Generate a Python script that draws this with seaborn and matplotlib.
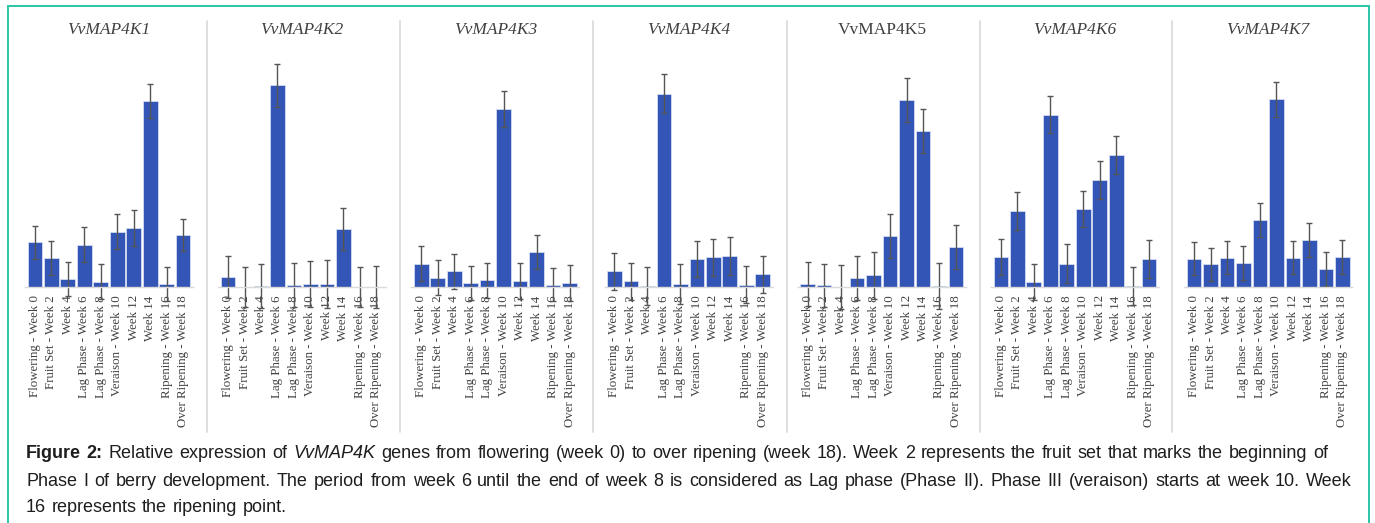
import matplotlib
matplotlib.use('Agg')
import pandas as pd
import matplotlib.pyplot as plt
import seaborn as sns
from matplotlib.lines import Line2D

# stages on the x axis (same for every gene)
stages = ["Flowering - Week 0", "Fruit Set - Week 2", "Week 4", "Lag Phase - Week 6",
          "Lag Phase - Week 8", "Veraison - Week 10", "Week 12", "Week 14",
          "Ripening - Week 16", "Over Ripening - Week 18"]

genes = ["VvMAP4K1", "VvMAP4K2", "VvMAP4K3", "VvMAP4K4", "VvMAP4K5", "VvMAP4K6", "VvMAP4K7"]

# relative expression and error
k1 = [44.7, 28.7, 8.3, 42.3, 5.3, 55.3, 59.3, 186.0, 3.3, 52.0]
k1_err = [16.7, 17.0, 17.0, 17.4, 17.7, 17.3, 18.0, 16.7, 17.0, 16.3]
k2 = [9.7, 0.0, 1.0, 201.7, 2.0, 3.0, 3.0, 58.0, 0.0, 0.0]
k2_err = [21.0, 20.0, 22.0, 21.3, 22.0, 23.0, 24.0, 21.3, 20.0, 21.0]
k3 = [23.4, 9.4, 15.7, 4.0, 6.7, 177.7, 5.7, 35.0, 2.4, 4.0]
k3_err = [17.6, 17.6, 17.3, 17.0, 17.7, 18.0, 18.0, 17.4, 16.6, 17.7]
k4 = [15.7, 5.7, 1.0, 193.4, 3.0, 28.0, 29.7, 31.0, 2.4, 12.7]
k4_err = [18.3, 18.3, 19.0, 19.3, 19.7, 18.4, 18.3, 18.7, 18.6, 18.7]
k5 = [3.0, 1.7, 0.0, 8.7, 11.7, 50.7, 187.4, 156.0, 1.0, 40.0]
k5_err = [21.7, 21.7, 21.7, 22.0, 23.7, 22.0, 22.0, 22.4, 22.7, 22.0]
k6 = [30.0, 76.0, 5.0, 172.4, 23.4, 78.0, 107.4, 132.0, 1.0, 28.0]
k6_err = [18.0, 18.7, 18.4, 18.6, 19.6, 18.4, 19.0, 18.7, 19.0, 18.7]
k7 = [28.3, 22.7, 29.3, 24.3, 66.7, 187.7, 29.3, 46.7, 17.7, 30.0]
k7_err = [16.7, 16.6, 16.4, 17.0, 17.0, 17.3, 16.4, 17.0, 17.0, 16.7]

values = [k1, k2, k3, k4, k5, k6, k7]
errors = [k1_err, k2_err, k3_err, k4_err, k5_err, k6_err, k7_err]

caption_lines = [
    "Figure 2: Relative expression of VvMAP4K genes from flowering (week 0) to over ripening (week 18). Week 2 represents the fruit set that marks the beginning of",
    "Phase I of berry development. The period from week 6 until the end of week 8 is considered as Lag phase (Phase II). Phase III (veraison) starts at week 10. Week",
    "16 represents the ripening point.",
]

sns.set_style('white')
plt.rcParams['font.family'] = ['Liberation Serif', 'DejaVu Serif']

W, H = 1375, 523
fig = plt.figure(figsize=(W / 100, H / 100), dpi=100)

bar_color = '#3356b6'
for i, gene in enumerate(genes):
    left = 25 + i * 193.2
    ax = fig.add_axes([left / W, 1 - 287 / H, 168 / W, 247 / H])
    df = pd.DataFrame({'stage': stages, 'value': values[i]})
    sns.barplot(data=df, x='stage', y='value', color=bar_color, saturation=1,
                width=0.89, errorbar=None, edgecolor='#dfe5f5', linewidth=0.5, ax=ax)
    eb = ax.errorbar(range(len(stages)), values[i], yerr=errors[i], fmt='none',
                     ecolor='#555555', elinewidth=1.0, capsize=2.5, capthick=1.0)
    for art in eb.lines[1] + eb.lines[2]:
        art.set_clip_on(False)
    ax.set_xlim(-0.6, 9.6)
    ax.set_ylim(0, 247)
    ax.set_xlabel('')
    ax.set_ylabel('')
    ax.set_yticks([])
    for s in ['top', 'left', 'right']:
        ax.spines[s].set_visible(False)
    ax.spines['bottom'].set_color('#d9d9d9')
    ax.spines['bottom'].set_linewidth(1.0)
    ax.tick_params(axis='x', length=0, pad=6, labelsize=9.3, labelrotation=90,
                   labelcolor='#404040')
    style = 'normal' if gene == 'VvMAP4K5' else 'italic'
    fig.text((left + 84) / W, 1 - 30 / H, gene, ha='center', va='center',
             fontsize=12.5, fontstyle=style, color='#404040')

# panel separators
for xs in [207, 400, 593, 787, 980, 1172]:
    fig.add_artist(Line2D([xs / W, xs / W], [1 - 21 / H, 1 - 432 / H],
                          color='#dcdcdc', linewidth=1.3))

# teal frame (open at the bottom)
frame = dict(color='#2cc5a6', linewidth=1.4)
fig.add_artist(Line2D([8 / W, 8 / W], [-0.05, 1 - 6 / H], **frame))
fig.add_artist(Line2D([8 / W, 1369 / W], [1 - 6 / H, 1 - 6 / H], **frame))
fig.add_artist(Line2D([1369 / W, 1369 / W], [-0.05, 1 - 6 / H], **frame))

# caption, placed word by word so bold / italic words can sit inline
cap_font = ['Liberation Sans', 'DejaVu Sans']
cap_size = 13
renderer = fig.canvas.get_renderer()
x_left = 26
line_right = [1328, 1352, None]
line_y = [453, 481, 508]


def word_style(w, line_no, k):
    if line_no == 0 and k < 2:
        return dict(fontweight='bold')
    if w == 'VvMAP4K':
        return dict(fontstyle='italic')
    return {}


probe = fig.text(0, 0, 'a a', fontsize=cap_size, family=cap_font)
w_aa = fig.text(0, 0, 'aa', fontsize=cap_size, family=cap_font)
space_w = probe.get_window_extent(renderer).width - w_aa.get_window_extent(renderer).width
probe.remove()
w_aa.remove()

for n, line in enumerate(caption_lines):
    words = line.split(' ')
    texts = []
    for k, w in enumerate(words):
        t = fig.text(0, 1 - line_y[n] / H, w, fontsize=cap_size, family=cap_font,
                     color='#1e1e1e', va='center', ha='left', **word_style(w, n, k))
        texts.append(t)
    widths = [t.get_window_extent(renderer).width for t in texts]
    if line_right[n] is not None:
        gap = (line_right[n] - x_left - sum(widths)) / (len(words) - 1)
    else:
        gap = space_w * 1.1
    x = x_left
    for t, wd in zip(texts, widths):
        t.set_x(x / W)
        x += wd + gap

fig.savefig('out.png', dpi=100)
